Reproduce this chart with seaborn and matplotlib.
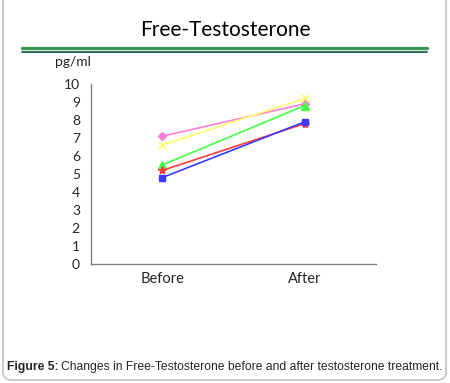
import pandas as pd
import matplotlib
matplotlib.use("Agg")
import matplotlib.pyplot as plt
import seaborn as sns
from matplotlib.patches import FancyBboxPatch
from matplotlib.lines import Line2D

# data (pg/ml)
times = ["Before", "After"]
subject_a = [7.1, 8.9]   # pink diamond
subject_b = [6.6, 9.2]   # yellow cross
subject_c = [5.5, 8.8]   # green triangle
subject_d = [5.2, 7.8]   # red star
subject_e = [4.8, 7.9]   # blue square
y_ticks = list(range(0, 11))

series = [
    (subject_a, "#ff7fd4", "D", 4),
    (subject_b, "#ffff66", "x", 6),
    (subject_c, "#44ff44", "^", 6),
    (subject_d, "#ff3b3b", "*", 6),
    (subject_e, "#3b3bff", "s", 5),
]

sns.set_style("white")
plt.rcParams["font.family"] = ["Lato", "DejaVu Sans"]

fig = plt.figure(figsize=(4.5, 3.83), dpi=100)
ax = fig.add_axes([0.2022, 0.3107, 0.6333, 0.47])

for vals, color, mk, ms in series:
    df = pd.DataFrame({"pos": [0, 1], "value": vals})
    sns.lineplot(data=df, x="pos", y="value", color=color, marker=mk,
                 markersize=ms, markeredgewidth=1, markeredgecolor=color,
                 linewidth=1.2, ax=ax)

ax.set_xlim(-0.5, 1.5)
ax.set_ylim(0, 10)
ax.set_xticks([0, 1])
ax.set_xticklabels(times, fontsize=10.5)
ax.set_yticks(y_ticks)
ax.set_yticklabels([str(t) for t in y_ticks], fontsize=10)
ax.tick_params(length=0, pad=8)
ax.tick_params(axis="x", pad=6)
ax.set_xlabel("")
ax.set_ylabel("")
for s in ["top", "right"]:
    ax.spines[s].set_visible(False)
for s in ["left", "bottom"]:
    ax.spines[s].set_color("#808080")
    ax.spines[s].set_linewidth(1)

fig.text(72.5 / 450, 1 - 62 / 383, "pg/ml", fontsize=10, ha="center", va="center")
fig.text(0.5, 1 - 30 / 383, "Free-Testosterone", fontsize=15,
         ha="center", va="center", color="black")

# double green rule under title
fig.add_artist(Line2D([22 / 450, 427 / 450], [1 - 47.5 / 383] * 2,
                      color="#3a9a55", linewidth=2.4, transform=fig.transFigure))
fig.add_artist(Line2D([22 / 450, 427 / 450], [1 - 51.5 / 383] * 2,
                      color="#2a6a5a", linewidth=1.4, transform=fig.transFigure))

# rounded frame
frame = FancyBboxPatch((3 / 450, 3 / 383), 443 / 450, 390 / 383,
                       boxstyle="round,pad=0,rounding_size=0.02",
                       transform=fig.transFigure, fill=False,
                       edgecolor="#c4c4c4", linewidth=1.2)
fig.add_artist(frame)

cap = fig.text(7 / 450, 1 - 367 / 383, "Figure 5:", fontsize=8.75,
               fontweight="bold", family="Liberation Sans", va="center")
fig.canvas.draw()
bb = cap.get_window_extent()
fig.text(bb.x1 / fig.bbox.width + 0.006, 1 - 367 / 383,
         "Changes in Free-Testosterone before and after testosterone treatment.",
         fontsize=8.75, family="Liberation Sans", va="center")

fig.savefig("out.png", dpi=100)
